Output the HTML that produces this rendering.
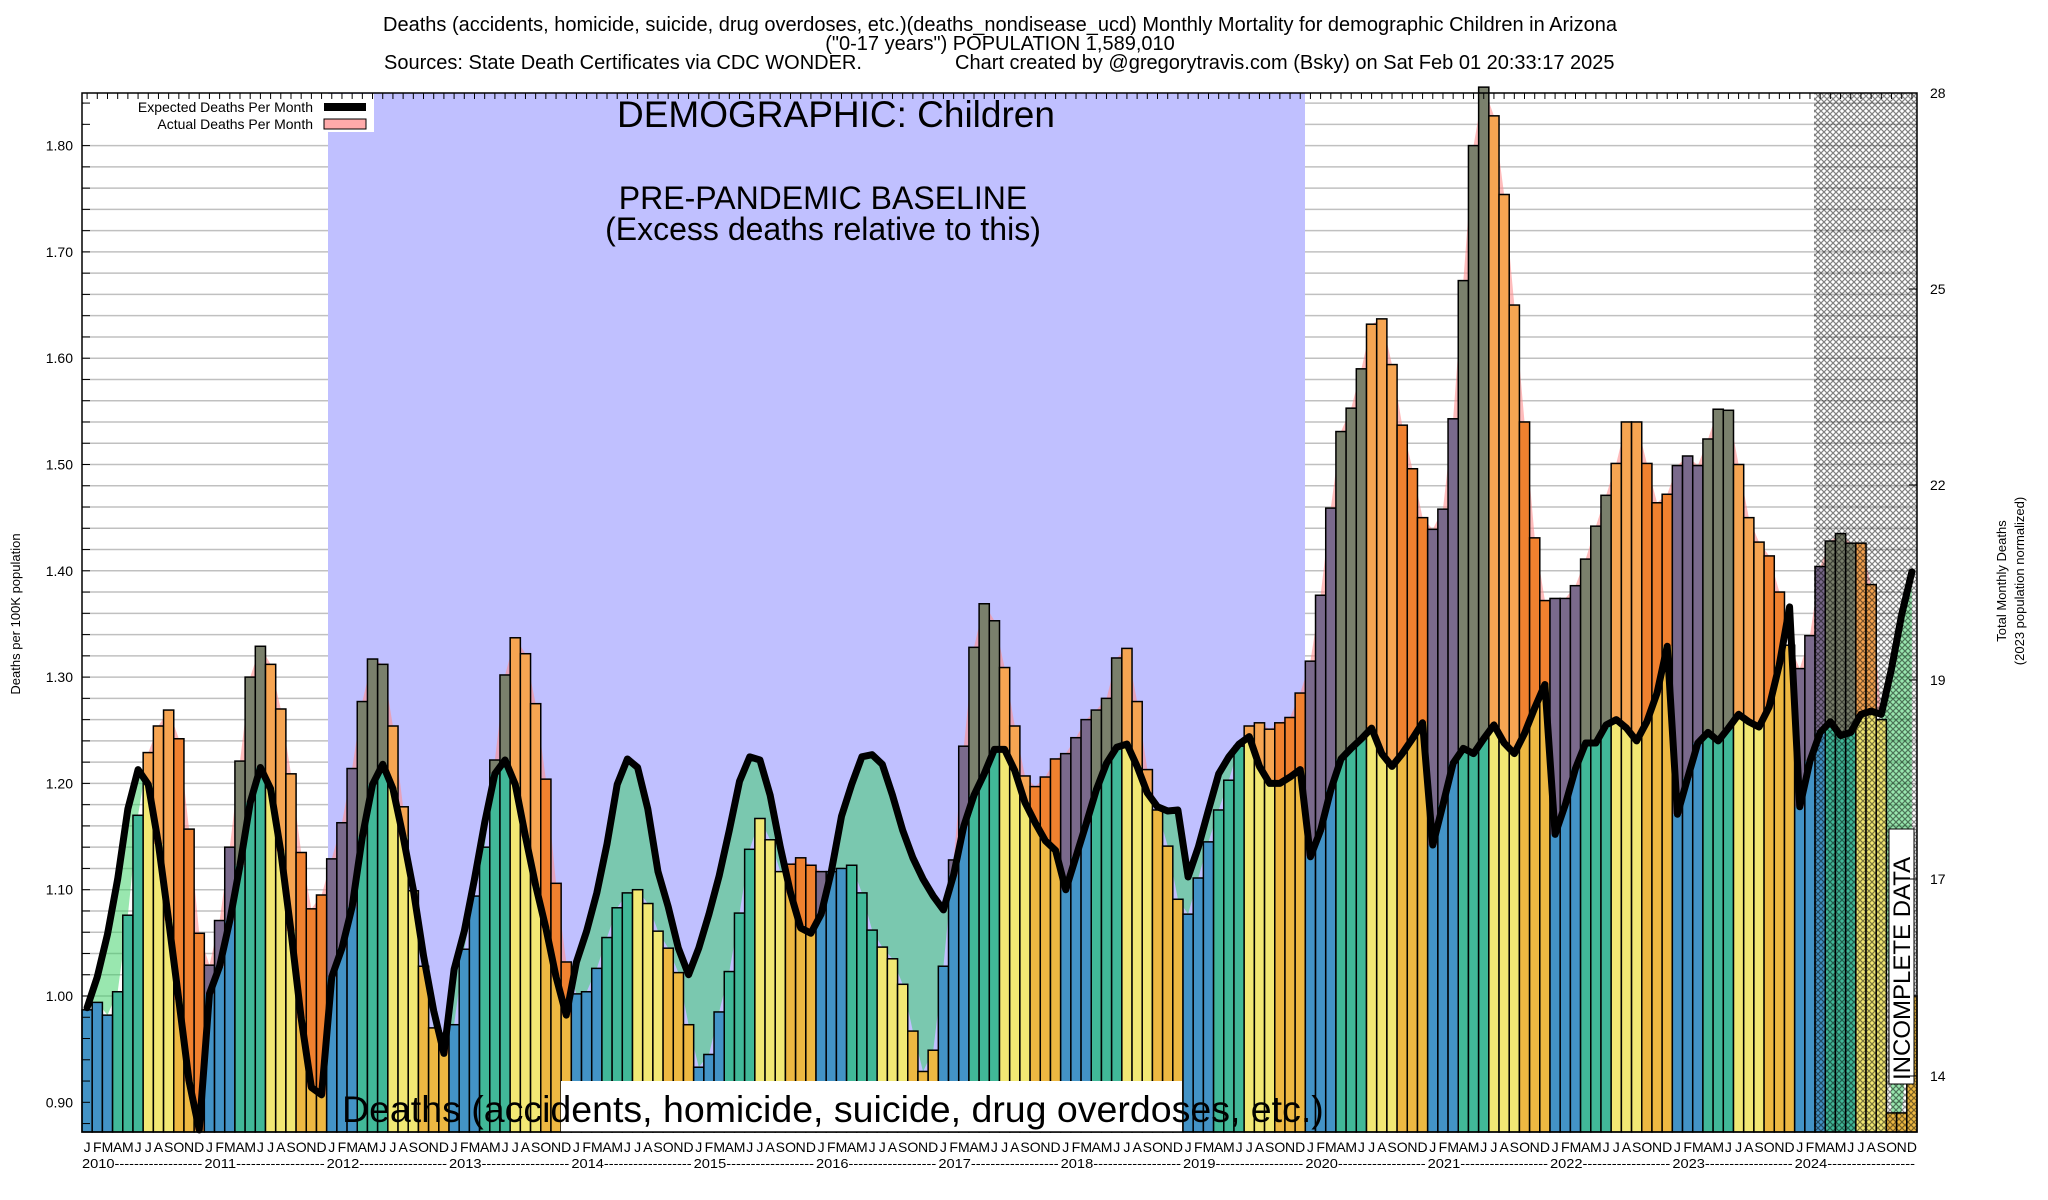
<!DOCTYPE html>
<html><head><meta charset="utf-8"><style>
html,body{margin:0;padding:0;background:#fff;}
svg{display:block;font-family:"Liberation Sans",sans-serif;}
</style></head><body>
<svg id="chart" width="2048" height="1200" viewBox="0 0 2048 1200" xmlns="http://www.w3.org/2000/svg">
<defs>
<pattern id="hatch" width="6" height="6" patternUnits="userSpaceOnUse">
<path d="M0,0 L6,6 M6,0 L0,6" stroke="#000" stroke-width="1.2"/>
</pattern>
</defs>
<g font-size="20" fill="#000">
<text x="1000" y="31" text-anchor="middle">Deaths (accidents, homicide, suicide, drug overdoses, etc.)(deaths_nondisease_ucd) Monthly Mortality for demographic Children in Arizona</text>
<text x="1000" y="50" text-anchor="middle">("0-17 years") POPULATION 1,589,010</text>
<text x="384" y="69">Sources: State Death Certificates via CDC WONDER.</text>
<text x="955" y="69">Chart created by @gregorytravis.com (Bsky) on Sat Feb 01 20:33:17 2025</text>
</g>
<g id="grid"></g>
<rect x="328" y="93" width="977" height="1039" fill="#c0c0ff"/>
<g id="areas"></g>
<g id="bars"></g>
<rect x="1814" y="93" width="103" height="1039" fill="url(#hatch)" opacity="0.5"/>
<g id="lines"></g>
<rect x="561" y="1081" width="621" height="51" fill="#fff"/>
<text x="342" y="1122" font-size="37.5" fill="#000">Deaths (accidents, homicide, suicide, drug overdoses, etc.)</text>
<text x="836" y="127" font-size="37" text-anchor="middle">DEMOGRAPHIC: Children</text>
<text x="823" y="209" font-size="32" text-anchor="middle">PRE-PANDEMIC BASELINE</text>
<text x="823" y="240" font-size="32" text-anchor="middle">(Excess deaths relative to this)</text>
<g>
<rect x="1889" y="829" width="25" height="255" fill="#fff" stroke="#000" stroke-width="1"/>
<text x="1910" y="1080" font-size="24" transform="rotate(-90 1910 1080)">INCOMPLETE DATA</text>
</g>
<g>
<rect x="84" y="94" width="290" height="38" fill="#fff"/>
<text x="313" y="112" font-size="14" text-anchor="end">Expected Deaths Per Month</text>
<rect x="324" y="103" width="42" height="8" fill="#000"/>
<text x="313" y="129" font-size="14" text-anchor="end">Actual Deaths Per Month</text>
<rect x="324" y="119" width="42" height="10" fill="#ffaaaa" stroke="#000" stroke-width="1"/>
</g>
<rect x="82" y="93" width="1835" height="1039" fill="none" stroke="#000" stroke-width="1.5"/>
<g id="axes"></g>
<text x="20" y="614" font-size="13" text-anchor="middle" transform="rotate(-90 20 614)">Deaths per 100K population</text>
<g font-size="13" text-anchor="middle">
<text x="2006" y="581" transform="rotate(-90 2006 581)">Total Monthly Deaths</text>
<text x="2024" y="581" transform="rotate(-90 2024 581)">(2023 population normalized)</text>
</g>
</svg>
<script>
const actual = [
0.987,0.994,0.982,1.004,1.076,1.170,1.229,1.254,1.269,1.242,1.157,1.059,
1.029,1.071,1.140,1.221,1.300,1.329,1.312,1.270,1.209,1.135,1.082,1.095,
1.129,1.163,1.214,1.277,1.317,1.312,1.254,1.178,1.099,1.028,0.970,0.965,
0.973,1.044,1.094,1.140,1.222,1.302,1.337,1.322,1.275,1.204,1.106,1.032,
1.002,1.004,1.026,1.055,1.083,1.097,1.100,1.087,1.061,1.045,1.022,0.973,
0.933,0.945,0.985,1.023,1.078,1.138,1.167,1.147,1.117,1.124,1.130,1.123,
1.117,1.117,1.120,1.123,1.097,1.062,1.046,1.035,1.011,0.967,0.929,0.949,
1.028,1.128,1.235,1.328,1.369,1.353,1.309,1.254,1.207,1.197,1.206,1.223,
1.228,1.243,1.260,1.269,1.280,1.318,1.327,1.277,1.213,1.175,1.141,1.091,
1.077,1.111,1.145,1.175,1.203,1.235,1.254,1.257,1.251,1.257,1.262,1.285,
1.315,1.377,1.459,1.531,1.553,1.590,1.632,1.637,1.594,1.537,1.496,1.450,
1.439,1.458,1.543,1.673,1.800,1.855,1.828,1.754,1.650,1.540,1.431,1.372,
1.374,1.374,1.386,1.411,1.442,1.471,1.501,1.540,1.540,1.501,1.464,1.472,
1.499,1.508,1.499,1.524,1.552,1.551,1.500,1.450,1.427,1.414,1.380,1.330,
1.308,1.339,1.404,1.428,1.435,1.426,1.426,1.387,1.260,0.890,0.890,1.000];
const expected = [
0.989,1.018,1.058,1.110,1.176,1.213,1.199,1.143,1.071,0.996,0.920,0.874,
1.002,1.028,1.071,1.123,1.182,1.215,1.195,1.136,1.061,0.979,0.914,0.907,
1.018,1.045,1.084,1.150,1.199,1.218,1.195,1.150,1.100,1.038,0.986,0.946,
1.025,1.061,1.110,1.163,1.209,1.222,1.199,1.150,1.104,1.064,1.018,0.982,
1.032,1.061,1.097,1.143,1.199,1.223,1.215,1.176,1.117,1.084,1.045,1.020,
1.045,1.077,1.113,1.156,1.202,1.225,1.222,1.189,1.140,1.097,1.064,1.059,
1.077,1.117,1.169,1.199,1.225,1.227,1.218,1.189,1.156,1.130,1.110,1.094,
1.081,1.114,1.160,1.189,1.209,1.232,1.232,1.212,1.182,1.163,1.146,1.137,
1.100,1.131,1.162,1.194,1.219,1.234,1.237,1.216,1.191,1.178,1.174,1.175,
1.112,1.140,1.175,1.209,1.225,1.237,1.244,1.216,1.200,1.200,1.206,1.213,
1.131,1.156,1.194,1.223,1.233,1.242,1.252,1.228,1.216,1.228,1.242,1.257,
1.142,1.180,1.219,1.233,1.228,1.242,1.255,1.238,1.228,1.247,1.271,1.293,
1.152,1.180,1.214,1.238,1.238,1.255,1.260,1.252,1.240,1.258,1.285,1.329,
1.171,1.205,1.238,1.248,1.240,1.252,1.265,1.258,1.253,1.272,1.312,1.366,
1.178,1.221,1.248,1.258,1.245,1.248,1.265,1.268,1.265,1.308,1.359,1.399];
const monthLetters = ["J","F","M","A","M","J","J","A","S","O","N","D"];
const years = [2010,2011,2012,2013,2014,2015,2016,2017,2018,2019,2020,2021,2022,2023,2024];
const leftTicks = [0.90,1.00,1.10,1.20,1.30,1.40,1.50,1.60,1.70,1.80];
const rightTickLabels = ["28","25","22","19","17","14"];

const NS="http://www.w3.org/2000/svg";
const PL=82, PR=1917, PT=93, PB=1132;
const N=actual.length, BW=(PR-PL)/180;
const X=i=>PL+i*BW, XC=i=>PL+(i+0.5)*BW;
const Y=v=>996-(v-1)*1063;
function mk(tag,attrs,parent){const e=document.createElementNS(NS,tag);for(const k in attrs)e.setAttribute(k,attrs[k]);parent.appendChild(e);return e;}
const grid=document.getElementById('grid'), areas=document.getElementById('areas'), bars=document.getElementById('bars'), lines=document.getElementById('lines'), axes=document.getElementById('axes');
const chart=document.getElementById('chart');

for(let k=0;k<=49;k++){const v=0.88+k*0.02;const y=Y(v);if(y<PT||y>PB)continue;
 const l=mk('line',{x1:PL,x2:PR,y1:y,y2:y,stroke:'#c0c0c0','stroke-width':1.5},grid);
 
 
 const t=mk('line',{x1:PL,x2:PL+8,y1:y,y2:y,stroke:'#000','stroke-width':1},axes);
 
 
}
const defs=chart.querySelector('defs');
let expPts=[],actPts=[];
for(let i=0;i<N;i++){expPts.push(XC(i)+','+Y(expected[i]));actPts.push(XC(i)+','+Y(actual[i]));}
const x0=XC(0),x1=XC(N-1);
const cpA=mk('clipPath',{id:'aboveExp'},defs);
mk('polygon',{points:x0+','+PT+' '+expPts.join(' ')+' '+x1+','+PT},cpA);
const cpB=mk('clipPath',{id:'aboveAct'},defs);
mk('polygon',{points:x0+','+PT+' '+actPts.join(' ')+' '+x1+','+PT},cpB);
const pink=mk('polygon',{points:x0+','+PB+' '+actPts.join(' ')+' '+x1+','+PB,fill:'#ff9090','fill-opacity':0.6,'clip-path':'url(#aboveExp)'},areas);


const green=mk('polygon',{points:x0+','+PB+' '+expPts.join(' ')+' '+x1+','+PB,fill:'#33d060','fill-opacity':0.5,'clip-path':'url(#aboveAct)'},areas);



const baseCol=['#4393c6','#41b898','#f2e874','#edb842'];
const excCol=['#7a6a8c','#7a806c','#f6a552','#f0812f'];
for(let i=0;i<N;i++){
 const q=Math.floor((i%12)/3);
 const a=actual[i], e=expected[i];
 const top=Y(a), mid=Y(Math.min(a,e));
 const b=mk('rect',{x:X(i),y:mid,width:BW,height:PB-mid,fill:baseCol[q]},bars);
 
 
 if(a>e){const x=mk('rect',{x:X(i),y:top,width:BW,height:mid-top,fill:excCol[q]},bars);
  
  }
 const o=mk('rect',{x:X(i),y:top,width:BW,height:PB-top,fill:'none',stroke:'#000','stroke-width':1.5},bars);
 
 
}
const pl=mk('polyline',{points:expPts.join(' '),fill:'none',stroke:'#000','stroke-width':7,'stroke-linejoin':'round','stroke-linecap':'round'},lines);



leftTicks.forEach(v=>{
 const t=mk('text',{x:73,y:Y(v)+5,'font-size':14,'text-anchor':'end'},axes);t.textContent=v.toFixed(2);
 
 
});
const rightY=[93,289,485,680,879,1076];
rightTickLabels.forEach((s,k)=>{
 const y=rightY[k];
 const t=mk('text',{x:1930,y:y+5,'font-size':14},axes);t.textContent=s;
 
 
 const l=mk('line',{x1:PR-8,x2:PR,y1:y,y2:y,stroke:'#000','stroke-width':1},axes);
 
 
});
for(let i=0;i<N;i++){
 const l=mk('line',{x1:XC(i),x2:XC(i),y1:PT,y2:PT+6,stroke:'#000','stroke-width':1},axes);
 
 
 const t=mk('text',{x:XC(i),y:1152,'font-size':14,'text-anchor':'middle'},axes);t.textContent=monthLetters[i%12];
 
 
}
years.forEach((yr,k)=>{
 const t=mk('text',{x:X(k*12),y:1168,'font-size':13,textLength:(12*BW-2).toFixed(1),lengthAdjust:'spacingAndGlyphs'},axes);
 t.textContent=yr+'------------------';
 
 
});
</script>
</body></html>
